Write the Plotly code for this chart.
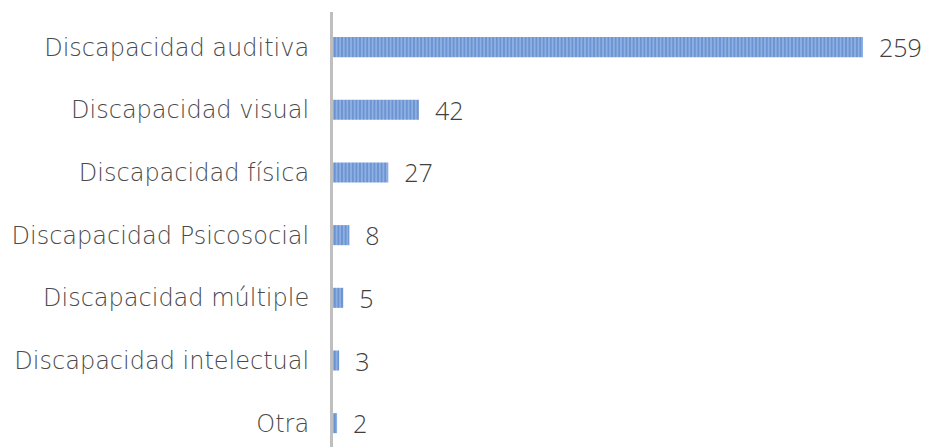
import plotly.graph_objects as go

categories = ["Otra", "Discapacidad intelectual", "Discapacidad múltiple",
              "Discapacidad Psicosocial", "Discapacidad física",
              "Discapacidad visual", "Discapacidad auditiva"]
values = [2, 3, 5, 8, 27, 42, 259]

TICK_FONT = "DejaVu Sans, Inter, sans-serif"
VAL_FONT = "Open Sans, Inter, sans-serif"

fig = go.Figure(go.Bar(
    x=values, y=categories, orientation="h",
    marker=dict(color="#96b6e4", line=dict(width=0),
                pattern=dict(shape="|", size=3.6, solidity=0.6, fgcolor="#4272c0", bgcolor="#96b6e4")),
    text=["\u00a0\u00a0" + str(v) for v in values], textposition="outside",
    constraintext="none",
    textfont=dict(size=25, color="#404040", family=VAL_FONT, weight=300), cliponaxis=False,
    width=0.32, hoverinfo="skip",
))

fig.update_layout(
    width=930, height=447,
    margin=dict(l=325, r=75, t=4, b=8),
    plot_bgcolor="white", paper_bgcolor="white",
    font=dict(family=TICK_FONT, size=24, color="#404040", weight=300),
    showlegend=False,
    xaxis=dict(range=[0, 259], visible=False, fixedrange=True, automargin=False),
    yaxis=dict(range=[-0.38, 6.56], showline=True, linecolor="#bfbfbf", linewidth=3,
               ticks="", showgrid=False, automargin=False, ticklabelstandoff=16,
               tickfont=dict(size=24, color="#4a4a4a", family=TICK_FONT, weight=300)),
)
fig.write_html("out.html")
